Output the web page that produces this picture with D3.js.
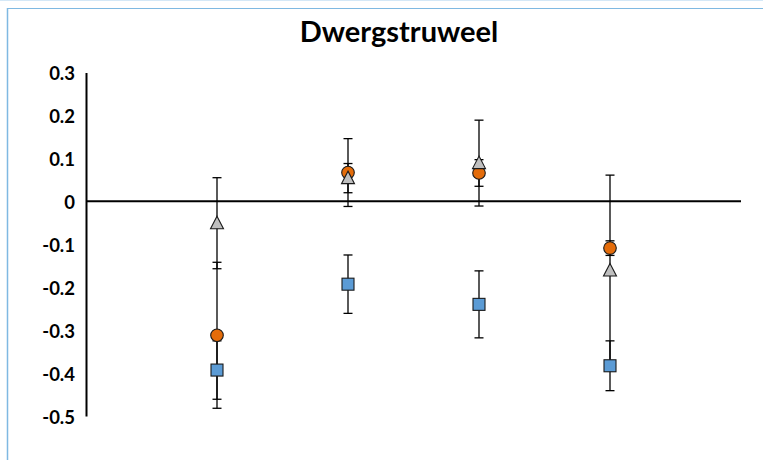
<!DOCTYPE html>
<html><head><meta charset="utf-8">
<script src="https://cdn.jsdelivr.net/npm/d3@7"></script>
<style>html,body{margin:0;padding:0;background:#fff;}svg{display:block;}</style>
</head><body>
<svg id="c" width="763" height="460"></svg>
<script>
const title = "Dwergstruweel";
const categories = ["1", "2", "3", "4"];
const yTicks = [0.3, 0.2, 0.1, 0, -0.1, -0.2, -0.3, -0.4, -0.5];
const tickLabels = ["0.3", "0.2", "0.1", "0", "-0.1", "-0.2", "-0.3", "-0.4", "-0.5"];
const squareVals = [-0.393, -0.193, -0.240, -0.383];
const squareErr  = [0.068, 0.068, 0.078, 0.058];
const circleVals = [-0.312, 0.067, 0.066, -0.109];
const circleErr  = [0.170, 0.079, 0.031, 0.017];
const triVals    = [-0.051, 0.054, 0.089, -0.161];
const triErr     = [0.106, 0.034, 0.100, 0.222];

const svg = d3.select("#c");
// frame
svg.append("line").attr("x1",0).attr("x2",763).attr("y1",0.5).attr("y2",0.5).attr("stroke","#d4e8f7").attr("stroke-width",1);
svg.append("line").attr("x1",7.5).attr("x2",763).attr("y1",8.5).attr("y2",8.5).attr("stroke","#7fb9e2").attr("stroke-width",1);
svg.append("line").attr("x1",7.5).attr("x2",7.5).attr("y1",8).attr("y2",460).attr("stroke","#7fb9e2").attr("stroke-width",1.5);

const x = d3.scaleLinear().domain([0, 5]).range([86, 741]);
const y = d3.scaleLinear().domain([-0.5, 0.3]).range([416, 72.5]);

svg.append("text").attr("x", 399).attr("y", 42).attr("text-anchor","middle")
  .attr("font-family","Lato, 'Open Sans', sans-serif").attr("font-weight","bold")
  .attr("font-size", 29).attr("fill","#000").text(title);

// y axis
const yAxis = d3.axisLeft(y).tickValues(yTicks).tickSize(0).tickPadding(11)
  .tickFormat((d,i) => tickLabels[i]);
const gy = svg.append("g").attr("transform", `translate(${x(0)},0)`).call(yAxis);
gy.select(".domain").attr("stroke","#000").attr("stroke-width",2);
gy.selectAll("text").attr("font-family","Lato, 'Open Sans', sans-serif")
  .attr("font-weight","bold").attr("font-size",18.5).attr("fill","#000").attr("dy","0.4em");

// zero line
svg.append("line").attr("x1", x(0)).attr("x2", x(5)).attr("y1", y(0)).attr("y2", y(0))
  .attr("stroke","#000").attr("stroke-width",2);

const series = [
  {vals: squareVals, err: squareErr, type: "square", fill: "#5b9bd5"},
  {vals: circleVals, err: circleErr, type: "circle", fill: "#e46c0a"},
  {vals: triVals, err: triErr, type: "tri", fill: "#bfbfbf"}
];

const eg = svg.append("g");
series.forEach(s => {
  s.vals.forEach((v, i) => {
    const cx = x(i + 1), e = s.err[i];
    const g = eg.append("g").attr("stroke","#000").attr("stroke-width",1.3);
    g.append("line").attr("x1",cx).attr("x2",cx).attr("y1",y(v+e)).attr("y2",y(v-e));
    [v+e, v-e].forEach(t => g.append("line").attr("x1",cx-4.5).attr("x2",cx+4.5).attr("y1",y(t)).attr("y2",y(t)));
  });
});

const mg = svg.append("g");
series.forEach(s => {
  s.vals.forEach((v, i) => {
    const cx = x(i + 1), cy = y(v);
    let m;
    if (s.type === "circle") {
      m = mg.append("circle").attr("cx",cx).attr("cy",cy).attr("r",6.3);
    } else if (s.type === "square") {
      m = mg.append("rect").attr("x",cx-6).attr("y",cy-6).attr("width",12).attr("height",12);
    } else {
      m = mg.append("path").attr("d",`M${cx},${cy-7} L${cx+6.5},${cy+5.5} L${cx-6.5},${cy+5.5} Z`);
    }
    m.attr("fill", s.fill).attr("stroke","#1a1a1a").attr("stroke-width",1.1);
  });
});
</script>
</body></html>
